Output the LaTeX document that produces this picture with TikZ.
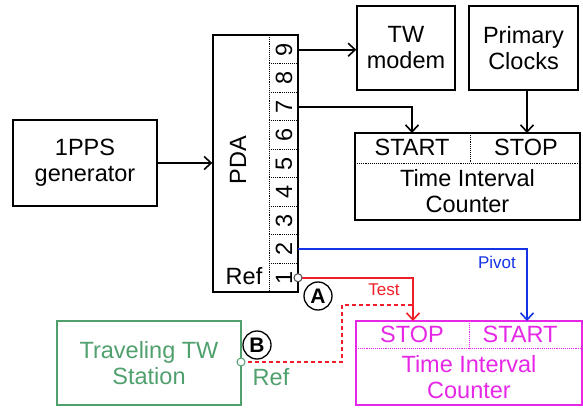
\documentclass[tikz,border=0pt]{standalone}
\usepackage{fontspec}
\setmainfont{Liberation Sans}
\usetikzlibrary{arrows.meta}
\definecolor{tred}{RGB}{240,30,40}
\definecolor{tblue}{RGB}{20,50,230}
\definecolor{tmag}{RGB}{230,40,230}
\definecolor{tgreen}{RGB}{80,160,110}
\tikzset{
  box/.style={draw, line width=1.4pt, minimum width=#1, inner sep=0pt, align=center},
  big/.style={font=\fontsize{23.5}{26}\selectfont},
  small/.style={font=\fontsize{17}{19}\selectfont},
  conn/.style={line width=1.8pt, -{Straight Barb[length=7pt,width=13pt,line width=1.6pt]}},
  sep/.style={line width=0.9pt, densely dotted},
  port/.style={circle, draw, fill=white, line width=1pt, inner sep=0pt, minimum size=8pt},
  circled/.style={circle, draw, line width=1.3pt, inner sep=0pt, minimum size=28pt, font=\fontsize{21}{21}\selectfont\bfseries}
}
\begin{document}
\begin{tikzpicture}[x=1pt,y=-1pt]
\useasboundingbox (0,0) rectangle (583,411);
% boxes
\node[box=144pt, minimum height=86pt, big] (pps) at (85,163) {1PPS\\generator};
\node[box=85pt, minimum height=257pt] (pda) at (255.5,163.5) {};
\node[big, rotate=90] (pdalbl) at (238,160) {PDA};
\node[big] (reflbl) at (244,276) {Ref};
\draw[sep] (269,35) -- (269,292);
\foreach \k in {1,...,8} \draw[sep] (269,{35+28.5*\k}) -- (298,{35+28.5*\k});
\foreach \n in {1,...,9} {
  \node[big, rotate=90] (pl\n) at (284,{292-28.5*\n+14.25}) {\n};
  \coordinate (p\n) at (298,{292-28.5*\n+14.25});
}
\node[box=98pt, minimum height=84pt, big] (modem) at (406,48) {TW\\modem};
\node[box=109pt, minimum height=84pt, big] (clocks) at (523.5,48) {Primary\\Clocks};
% upper TIC
\node[box=225pt, minimum height=87pt] (ticU) at (467.5,176.5) {};
\draw[sep] (355,163) -- (580,163);
\draw[sep] (470,133) -- (470,163);
\node[big] (startUl) at (412,147) {START};
\node[big] (stopUl) at (526,147) {STOP};
\node[big, align=center] (ticUl) at (467.5,191) {Time Interval\\Counter};
\coordinate (startU) at (412,133);
\coordinate (stopU) at (527,133);
% lower TIC
\node[box=226pt, minimum height=84pt, draw=tmag] (ticL) at (469,363) {};
\draw[sep, tmag] (356,348) -- (582,348);
\draw[sep, tmag] (469,321) -- (469,348);
\node[big, text=tmag] (stopLl) at (412,334) {STOP};
\node[big, text=tmag] (startLl) at (520,334) {START};
\node[big, text=tmag, align=center] (ticLl) at (469,377) {Time Interval\\Counter};
\coordinate (stopL) at (413,321);
\coordinate (startL) at (527,321);
% traveling station
\node[box=184pt, minimum height=84pt, draw=tgreen, text=tgreen, big] (trav) at (149,363) {Traveling TW\\Station};
\node[big, text=tgreen] (travref) at (271,377) {Ref};
% connectors
\draw[conn] (pps.east) -- (pps.east -| pda.west);
\draw[conn] (p9) -- (p9 -| modem.west);
\draw[conn] (p7) -| (startU);
\draw[conn] (clocks.south -| stopU) -- (stopU);
\draw[conn, tblue] (p2) -| (startL);
\draw[conn, tred] (p1) -| (stopL);
\draw[line width=1.8pt, tred, dash pattern=on 4pt off 3pt] (241,362) -- (342,362) -- (342,305) -- (413,305);
\node[port, draw=black!70] (c1) at (p1) {};
\node[port, draw=tgreen] (c2) at (241,362) {};
\node[small, text=tblue] (pivot) at (497,262) {Pivot};
\node[small, text=tred] (test) at (384,290) {Test};
\node[circled] (A) at (318,296) {A};
\node[circled] (B) at (257,345) {B};
\end{tikzpicture}
\end{document}
